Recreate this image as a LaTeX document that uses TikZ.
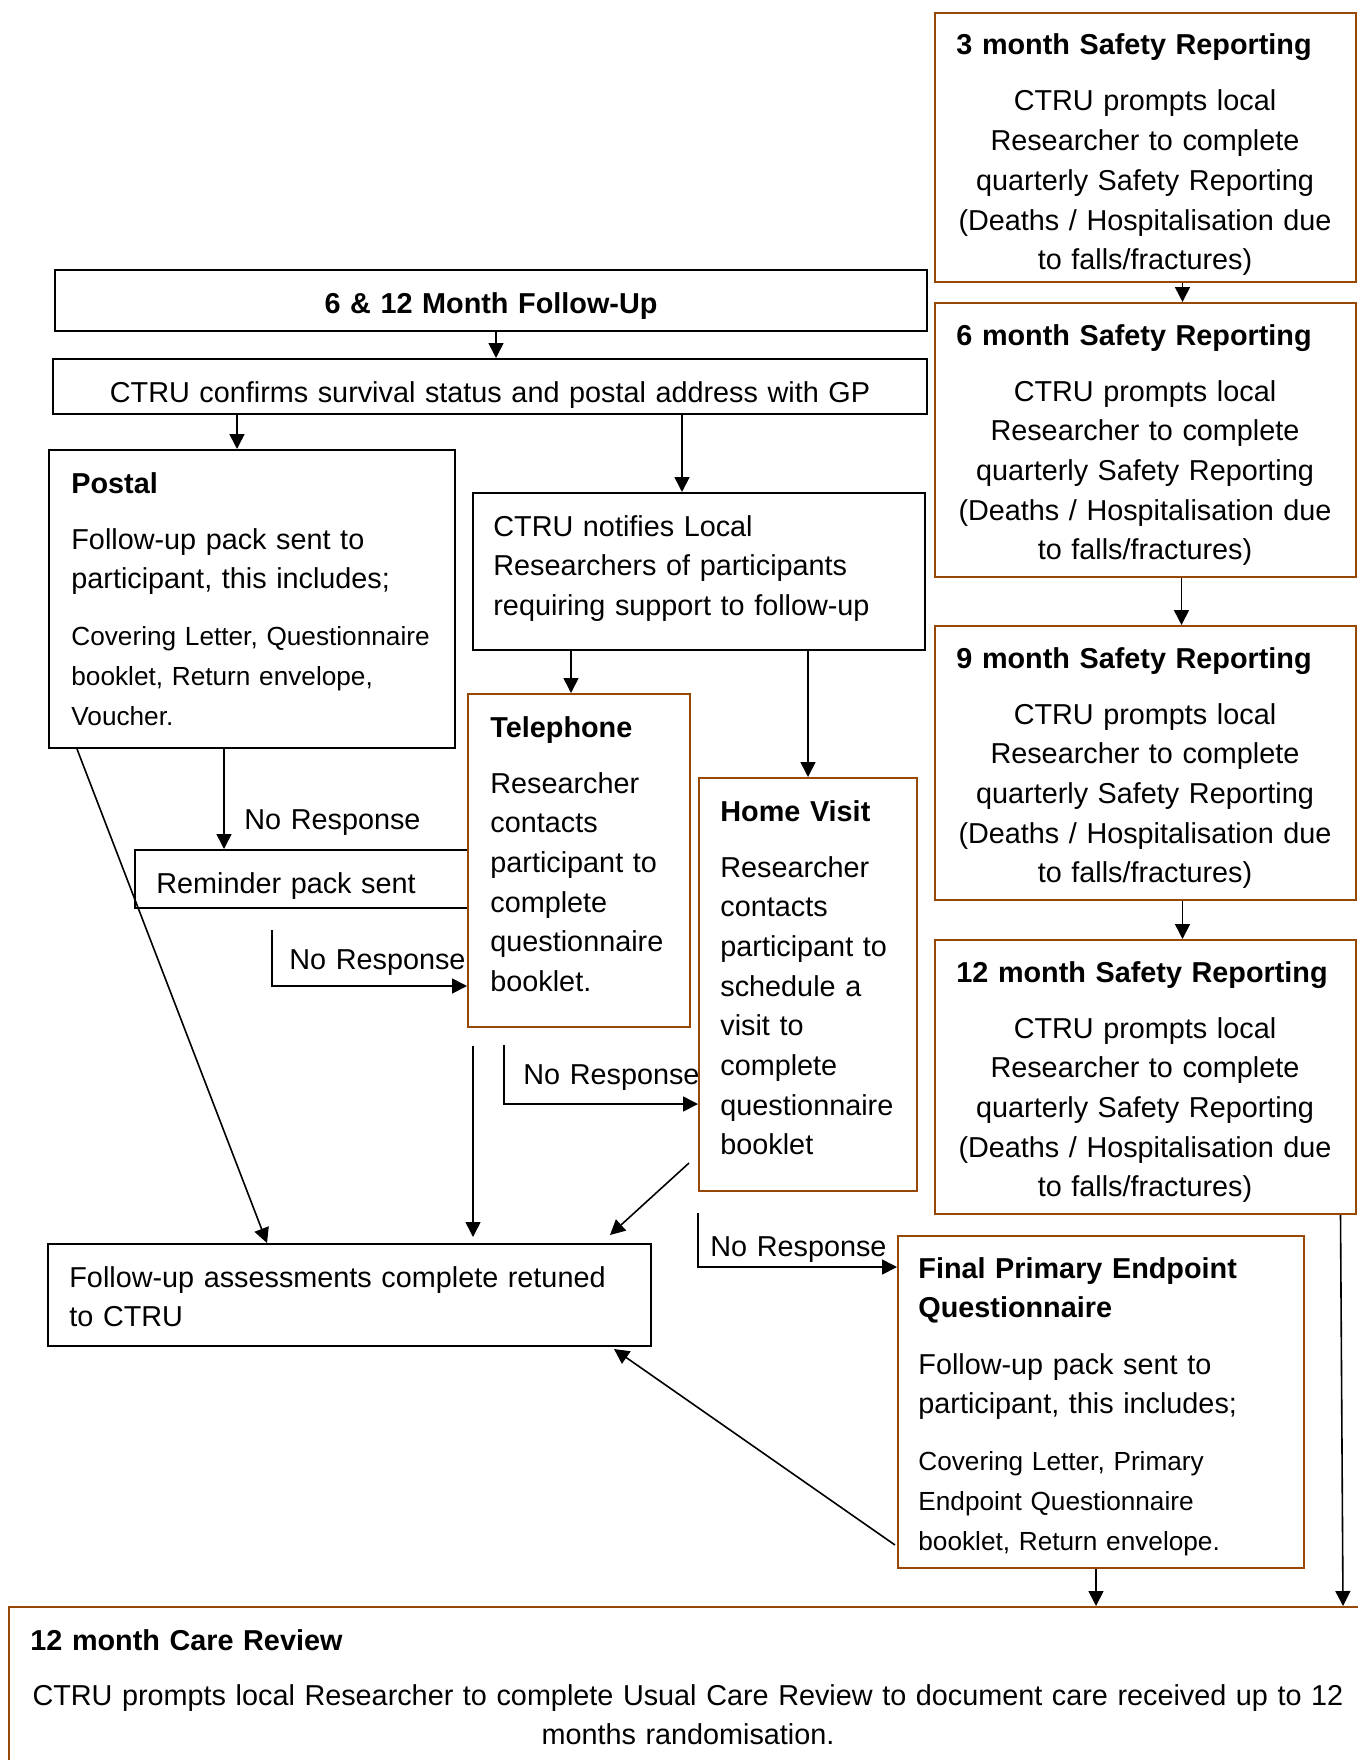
\documentclass[tikz,border=0pt]{standalone}
\usepackage{fontspec}
\setmainfont{Liberation Sans}
\usepackage{tikz}
\usetikzlibrary{arrows.meta,calc,fit}

\definecolor{boxbrown}{HTML}{974706}

\begin{document}
\begin{tikzpicture}[x=0.5pt,y=-0.5pt]
\tikzstyle{box}=[draw, line width=1pt, inner sep=0pt]
\tikzstyle{bbox}=[draw=boxbrown, line width=1pt, inner sep=0pt]
\tikzstyle{txt}=[inner sep=0pt, text width=700pt, align=left, anchor=base west, font=\fontsize{14.4}{19.85}\selectfont]
\tikzstyle{ctxt}=[txt, align=center, anchor=base]
\tikzstyle{small}=[txt, font=\fontsize{13.1}{20.2}\selectfont]
\tikzstyle{arr}=[line width=0.8pt, -{Triangle[length=7.5pt,width=7.5pt]}]
\useasboundingbox (0,0) rectangle (1358,1760);

% safety reporting column
\node[bbox, fit={(935,13) (1356,282)}] (s3) {};
\node[bbox, fit={(935,303) (1356,577)}] (s6) {};
\node[bbox, fit={(935,626) (1356,900)}] (s9) {};
\node[bbox, fit={(935,940) (1356,1214)}] (s12) {};
\node[txt] (s3t) at (956,55) {\bfseries 3 month Safety Reporting};
\node[ctxt] (s3b) at (1145,111) {CTRU prompts local\\Researcher to complete\\quarterly Safety Reporting\\(Deaths / Hospitalisation due\\to falls/fractures)};
\node[txt] (s6t) at (956,345) {\bfseries 6 month Safety Reporting};
\node[ctxt] (s6b) at (1145,401) {CTRU prompts local\\Researcher to complete\\quarterly Safety Reporting\\(Deaths / Hospitalisation due\\to falls/fractures)};
\node[txt] (s9t) at (956,668) {\bfseries 9 month Safety Reporting};
\node[ctxt] (s9b) at (1145,724) {CTRU prompts local\\Researcher to complete\\quarterly Safety Reporting\\(Deaths / Hospitalisation due\\to falls/fractures)};
\node[txt] (s12t) at (956,982) {\bfseries 12 month Safety Reporting};
\node[ctxt] (s12b) at (1145,1038) {CTRU prompts local\\Researcher to complete\\quarterly Safety Reporting\\(Deaths / Hospitalisation due\\to falls/fractures)};

% follow-up boxes
\node[box, fit={(55,270) (927,331)}] (fu) {};
\node[ctxt] (fut) at (491,313) {\bfseries 6 \& 12 Month Follow-Up};
\node[box, fit={(53,359) (927,414)}] (gp) {};
\begin{scope}
\clip (53,359) rectangle (927,414);
\node[ctxt] (gpt) at (490,402) {CTRU confirms survival status and postal address with GP};
\end{scope}
\node[box, fit={(49,450) (455,748)}] (post) {};
\node[txt] (postt) at (71,493) {\bfseries Postal};
\node[txt] (postb) at (71,549) {Follow-up pack sent to\\participant, this includes;};
\node[small] (posts) at (71,645) {Covering Letter, Questionnaire\\booklet, Return envelope,\\Voucher.};
\node[box, fit={(473,493) (925,650)}] (notify) {};
\node[txt] (notifyt) at (493,536) {CTRU notifies Local\\Researchers of participants\\requiring support to follow-up};
\node[box, fit={(135,850) (468,908)}] (remind) {};
\node[txt] (remindt) at (156,893) {Reminder pack sent};
\node[bbox, fit={(468,694) (690,1027)}] (tel) {};
\node[txt] (telt) at (490,737) {\bfseries Telephone};
\node[txt] (telb) at (490,793) {Researcher\\contacts\\participant to\\complete\\questionnaire\\booklet.};
\node[bbox, fit={(699,778) (917,1191)}] (home) {};
\node[txt] (homet) at (720,821) {\bfseries Home Visit};
\node[txt] (homeb) at (720,877) {Researcher\\contacts\\participant to\\schedule a\\visit to\\complete\\questionnaire\\booklet};
\node[box, fit={(48,1244) (651,1346)}] (done) {};
\node[txt] (donet) at (69,1287) {Follow-up assessments complete retuned\\to CTRU};
\node[bbox, fit={(898,1236) (1304,1568)}] (final) {};
\node[txt] (finalt) at (918,1278) {\bfseries Final Primary Endpoint\\Questionnaire};
\node[txt] (finalb) at (918,1374) {Follow-up pack sent to\\participant, this includes;};
\node[small] (finals) at (918,1470) {Covering Letter, Primary\\Endpoint Questionnaire\\booklet, Return envelope.};
\node[bbox, fit={(9,1607) (1390,1800)}] (care) {};
\node[txt] (caret) at (30,1650) {\bfseries 12 month Care Review};
\node[ctxt] (careb) at (688,1705) {CTRU prompts local Researcher to complete Usual Care Review to document care received up to 12\\months randomisation.};

% no response labels
\node[txt] (nr1t) at (244,829) {No Response};
\node[txt] (nr2t) at (289,969) {No Response};
\node[txt] (nr3t) at (523,1084) {No Response};
\node[txt] (nr4t) at (710,1256) {No Response};
\coordinate (nr2) at (272,930);
\coordinate (nr3) at (504,1045);
\coordinate (nr4) at (698,1213);

% connectors
\draw[arr] ($(s3.south)+(37,0)$) -- ($(s6.north)+(37,0)$);
\draw[arr] ($(s6.south)+(36,0)$) -- ($(s9.north)+(36,0)$);
\draw[arr] ($(s9.south)+(37,0)$) -- ($(s12.north)+(37,0)$);
\draw[arr] ($(s12.south)+(195,0)$) -- ($(care.north west)+(1335,0)$);
\draw[arr] ($(fu.south)+(5,0)$) -- ($(gp.north)+(6,0)$);
\draw[arr] ($(gp.south west)+(185,0)$) -- ($(post.north west)+(189,0)$);
\draw[arr] ($(gp.south west)+(630,0)$) -- ($(notify.north west)+(210,0)$);
\draw[arr] ($(notify.south west)+(99,0)$) -- ($(tel.north west)+(104,0)$);
\draw[arr] ($(notify.south west)+(336,0)$) -- ($(home.north west)+(110,0)$);
\draw[arr] ($(post.south west)+(176,0)$) -- ($(remind.north west)+(90,0)$);
\draw[arr] (nr2) |- ($(tel.south west)+(0,-42)$);
\draw[arr] (nr3) |- ($(home.south west)+(0,-88)$);
\draw[arr] (nr4) |- ($(final.north west)+(0,32)$);
\draw[arr] ($(post.south west)+(29,0)$) -- ($(done.north west)+(220,0)$);
\draw[arr] ($(tel.south west)+(6,18)$) -- ($(done.north west)+(426,-6)$);
\draw[arr] ($(home.south west)+(-9,-29)$) -- ($(done.north west)+(563,-8)$);
\draw[arr] ($(final.south west)+(-2,-24)$) -- ($(done.south west)+(567,2)$);
\draw[arr] ($(final.south west)+(199,0)$) -- ($(care.north west)+(1088,0)$);
\end{tikzpicture}
\end{document}
